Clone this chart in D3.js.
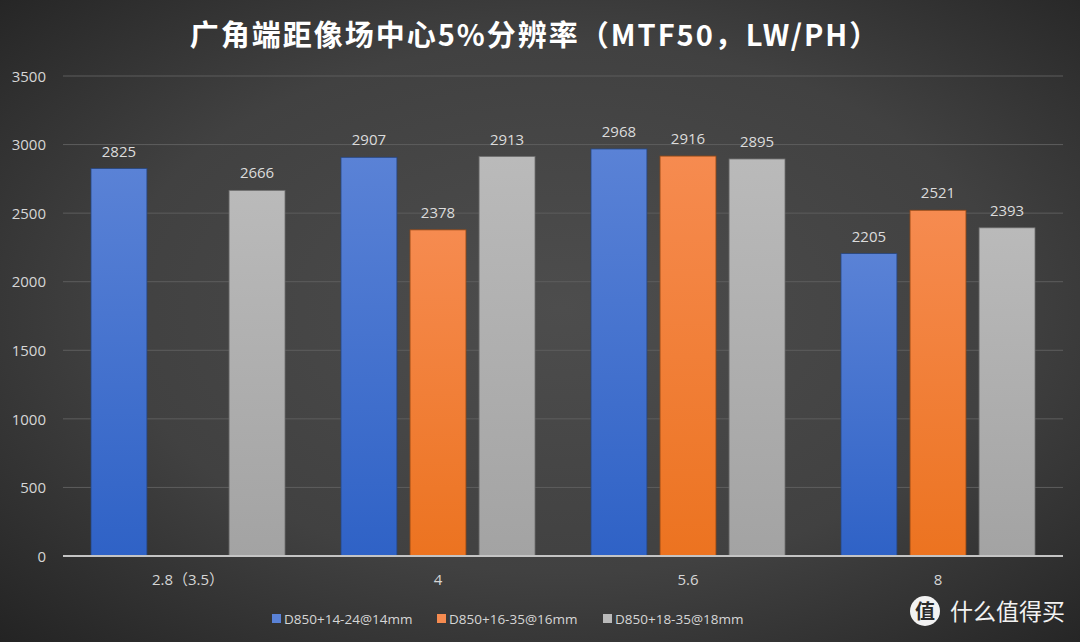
<!DOCTYPE html>
<html><head><meta charset="utf-8">
<script src="https://cdn.jsdelivr.net/npm/d3@7"></script>
<style>html,body{margin:0;padding:0;background:#333;}svg{display:block;}</style>
</head><body>
<svg id="c" width="1080" height="642"></svg>
<script>
const title = "广角端距像场中心5%分辨率（MTF50，LW/PH）";
const categories = ["2.8（3.5）", "4", "5.6", "8"];
const seriesNames = ["D850+14-24@14mm", "D850+16-35@16mm", "D850+18-35@18mm"];
const s1424 = [2825, 2907, 2968, 2205];
const s1635 = [null, 2378, 2916, 2521];
const s1835 = [2666, 2913, 2895, 2393];
const yTicks = [0, 500, 1000, 1500, 2000, 2500, 3000, 3500];

const W = 1080, H = 642;
const svg = d3.select("#c");
const defs = svg.append("defs");

const bg = defs.append("radialGradient").attr("id","bg").attr("cx","52%").attr("cy","48%").attr("r","75%");
bg.append("stop").attr("offset","0%").attr("stop-color","#4d4d4d");
bg.append("stop").attr("offset","55%").attr("stop-color","#414141");
bg.append("stop").attr("offset","100%").attr("stop-color","#222222");
svg.append("rect").attr("width",W).attr("height",H).attr("fill","url(#bg)");

const cols = [["#5a82d6","#2f62c6"],["#f68b50","#ec7320"],["#bababa","#a3a3a3"]];
const strokes = ["#26467f","#9a4a14","#6e6e6e"];
cols.forEach((c,i)=>{
  const g = defs.append("linearGradient").attr("id","g"+i).attr("x1",0).attr("y1",0).attr("x2",0).attr("y2",1);
  g.append("stop").attr("offset","0%").attr("stop-color",c[0]);
  g.append("stop").attr("offset","100%").attr("stop-color",c[1]);
});

const x0 = d3.scaleBand().domain(categories).range([63,1063]).paddingInner(0).paddingOuter(0);
const x1 = d3.scaleBand().domain(d3.range(3)).range([28, 250-28]).paddingInner(0.19).paddingOuter(0);
const y = d3.scaleLinear().domain([0,3500]).range([556,76]);

const font = "'Open Sans','Noto Sans CJK SC',sans-serif";

// gridlines
svg.append("g").selectAll("line").data(yTicks.filter(d=>d>0)).join("line")
  .attr("x1",63).attr("x2",1063).attr("y1",d=>y(d)).attr("y2",d=>y(d))
  .attr("stroke","#5d5d5d").attr("stroke-width",1);

// y axis labels
const yAxis = d3.axisLeft(y).tickValues(yTicks).tickFormat(d3.format("d")).tickSize(0).tickPadding(0);
const ya = svg.append("g").attr("transform","translate(46,0)").call(yAxis);
ya.select(".domain").remove();
ya.selectAll("text").attr("fill","#d6d6d6").attr("font-size",15).attr("font-family",font).attr("dy","0.35em");

const series = [s1424, s1635, s1835];
const bars = svg.append("g");
categories.forEach((cat,ci)=>{
  series.forEach((s,si)=>{
    const v = s[ci];
    if (v==null) return;
    const bx = x0(cat)+x1(si), bw = x1.bandwidth();
    bars.append("rect").attr("x",bx).attr("y",y(v)).attr("width",bw).attr("height",y(0)-y(v))
      .attr("fill","url(#g"+si+")").attr("stroke",strokes[si]).attr("stroke-width",0.8);
    bars.append("text").attr("x",bx+bw/2).attr("y",y(v)-12).attr("text-anchor","middle")
      .attr("fill","#dcdcdc").attr("font-size",15).attr("font-family",font).text(v);
  });
});

// baseline axis
svg.append("line").attr("x1",63).attr("x2",1063).attr("y1",y(0)).attr("y2",y(0))
  .attr("stroke","#c4c4c4").attr("stroke-width",2);

// x labels
const xAxis = d3.axisBottom(x0).tickSize(0).tickPadding(0);
const xa = svg.append("g").attr("transform","translate(0,580)").call(xAxis);
xa.select(".domain").remove();
xa.selectAll("text").attr("fill","#d6d6d6").attr("font-size",15).attr("font-family",font).attr("dy","0.35em");

// title
svg.append("text").attr("x",535).attr("y",46).attr("text-anchor","middle")
  .attr("fill","#ffffff").attr("font-size",29).attr("font-weight","bold")
  .attr("font-family","'Noto Sans CJK SC',sans-serif").attr("letter-spacing",2).text(title);

// legend
const legX = [272, 437, 603];
const leg = svg.append("g");
seriesNames.forEach((n,i)=>{
  leg.append("rect").attr("x",legX[i]).attr("y",614).attr("width",9).attr("height",9).attr("fill",cols[i][0]);
  leg.append("text").attr("x",legX[i]+12).attr("y",624).attr("fill","#d6d6d6").attr("font-size",13.5)
    .attr("font-family",font).text(n);
});

// watermark
const wm = svg.append("g");
wm.append("circle").attr("cx",925).attr("cy",611).attr("r",15).attr("fill","#f2f2f2");
wm.append("text").attr("x",925).attr("y",619).attr("text-anchor","middle").attr("fill","#2a2a2a")
  .attr("font-size",20).attr("font-weight","bold").attr("font-family","'Noto Sans CJK SC',sans-serif").text("值");
wm.append("text").attr("x",950).attr("y",620).attr("fill","#f2f2f2").attr("font-size",23)
  .attr("font-family","'Noto Sans CJK SC',sans-serif").text("什么值得买");
</script>
</body></html>
